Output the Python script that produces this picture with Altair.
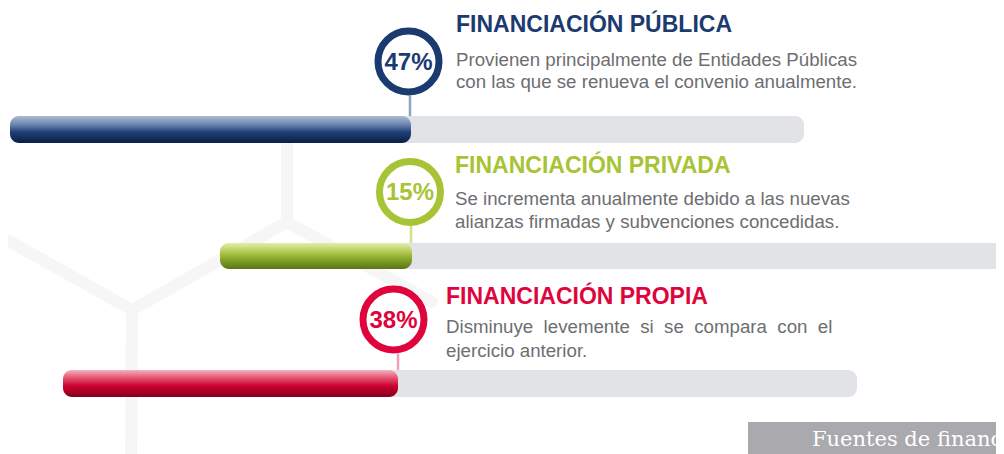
import altair as alt
import pandas as pd

# ---------------- data ----------------
categories = ["FINANCIACIÓN PÚBLICA", "FINANCIACIÓN PRIVADA", "FINANCIACIÓN PROPIA"]
percent_labels = ["47%", "15%", "38%"]
NB = "\u00a0 "  # widened word gap (the reference justifies this line)
descriptions = [
    ["Provienen principalmente de Entidades Públicas",
     "con las que se renueva el convenio anualmente."],
    ["Se incrementa anualmente debido a las nuevas",
     "alianzas firmadas y subvenciones concedidas."],
    [NB.join("Disminuye levemente si se compara con el".split(" ")),
     "ejercicio anterior."],
]
# bar extents (scale units)
bar_start = [10, 220, 63]
bar_end = [411, 412, 398]
track_end = [804, 1015, 857]
footer_label = "Fuentes de financiación"

# ---------------- layout / styles ----------------
W, H = 988, 446
XS = alt.Scale(domain=[8, 996], range=[0, W], nice=False, zero=False)
YS = alt.Scale(domain=[8, 454], range=[0, H], nice=False, zero=False)

bar_top = [116, 243, 370]
bar_bot = [143, 269, 397]
circ_x = [408.5, 410, 393.5]
circ_y = [61.5, 192, 319.5]
conn_x = [410, 411, 398]
title_x = [456, 455, 446]
title_y = [25, 166, 297]
desc_y = [[60, 82], [199, 222], [327, 351]]

main_col = ["#1b3a70", "#a6c435", "#e0043c"]
conn_col = ["#8ea2c2", "#cfe08f", "#f0a0b4"]
grads = [
    [("#a9bbd5", 0), ("#6f89b2", 0.3), ("#1f3f78", 0.6), ("#0a1d45", 1)],
    [("#e3edb0", 0), ("#b9d05a", 0.3), ("#8aa82a", 0.6), ("#5b7417", 1)],
    [("#f4b3c0", 0), ("#e4506e", 0.3), ("#cc0030", 0.6), ("#82001b", 1)],
]

# background hexagon lines
bg = pd.DataFrame({
    "x": [287, 287, 287, 0, 132],
    "y": [143, 222, 222, 236, 310],
    "x2": [287, 132, 432, 132, 131],
    "y2": [222, 310, 302, 310, 454],
})
bg_layer = alt.Chart(bg).mark_rule(color="#f6f6f7", strokeWidth=12, strokeCap="round").encode(
    x=alt.X("x:Q", scale=XS, axis=None), y=alt.Y("y:Q", scale=YS, axis=None),
    x2="x2:Q", y2="y2:Q")

rows = pd.DataFrame({
    "cat": categories, "pct": percent_labels,
    "bs": bar_start, "be": bar_end, "te": track_end,
    "bt": bar_top, "bb": bar_bot,
    "cx": circ_x, "cy": circ_y, "kx": conn_x,
    "tx": title_x, "ty": title_y,
    "col": main_col, "ccol": conn_col,
})

track = alt.Chart(rows).mark_rect(color="#e2e3e7", cornerRadius=9).encode(
    x=alt.X("bs:Q", scale=XS, axis=None), x2="te:Q",
    y=alt.Y("bt:Q", scale=YS, axis=None), y2="bb:Q")

conn = alt.Chart(rows).transform_calculate(c0="datum.cy + 34").mark_rule(strokeWidth=2.5).encode(
    x=alt.X("kx:Q", scale=XS, axis=None),
    y=alt.Y("c0:Q", scale=YS, axis=None), y2="bt:Q",
    color=alt.Color("ccol:N", scale=None))

bars = []
for i in range(3):
    g = alt.Gradient(gradient="linear", x1=0, x2=0, y1=0, y2=1,
                     stops=[alt.GradientStop(color=c, offset=o) for c, o in grads[i]])
    bars.append(
        alt.Chart(rows.iloc[[i]]).mark_rect(color=g, cornerRadius=9).encode(
            x=alt.X("bs:Q", scale=XS, axis=None), x2="be:Q",
            y=alt.Y("bt:Q", scale=YS, axis=None), y2="bb:Q"))

circles = alt.Chart(rows).mark_point(shape="circle", filled=True, fill="white",
                                     strokeWidth=7, size=3721, opacity=1).encode(
    x=alt.X("cx:Q", scale=XS, axis=None), y=alt.Y("cy:Q", scale=YS, axis=None),
    stroke=alt.Stroke("col:N", scale=None))

pct = alt.Chart(rows).mark_text(font="Liberation Sans", fontWeight="bold",
                                fontSize=24, align="center", baseline="middle", dy=1).encode(
    x=alt.X("cx:Q", scale=XS, axis=None), y=alt.Y("cy:Q", scale=YS, axis=None),
    text="pct:N", color=alt.Color("col:N", scale=None))

titles = alt.Chart(rows).mark_text(font="Liberation Sans", fontWeight="bold",
                                   fontSize=23, align="left", baseline="middle").encode(
    x=alt.X("tx:Q", scale=XS, axis=None), y=alt.Y("ty:Q", scale=YS, axis=None),
    text="cat:N", color=alt.Color("col:N", scale=None))

drows = []
for i, lines in enumerate(descriptions):
    for j, t in enumerate(lines):
        drows.append({"x": title_x[i], "y": desc_y[i][j], "t": t})
desc = alt.Chart(pd.DataFrame(drows)).mark_text(font="Liberation Sans", fontSize=18.7,
                                                 align="left", baseline="middle",
                                                 color="#6d6e71").encode(
    x=alt.X("x:Q", scale=XS, axis=None), y=alt.Y("y:Q", scale=YS, axis=None), text="t:N")

box = alt.Chart(pd.DataFrame({"x": [748], "x2": [1010], "y": [422], "y2": [460]})).mark_rect(
    color="#a9a9ae").encode(
    x=alt.X("x:Q", scale=XS, axis=None), x2="x2:Q",
    y=alt.Y("y:Q", scale=YS, axis=None), y2="y2:Q")
foot = alt.Chart(pd.DataFrame({"x": [812], "y": [440], "t": [footer_label]})).mark_text(
    font="DejaVu Serif", fontSize=21, align="left", baseline="middle", color="white").encode(
    x=alt.X("x:Q", scale=XS, axis=None), y=alt.Y("y:Q", scale=YS, axis=None), text="t:N")

chart = alt.layer(bg_layer, track, conn, *bars, circles, pct, titles, desc, box, foot).properties(
    width=W, height=H, padding=0, background="white",
    autosize=alt.AutoSizeParams(type="none"),
).configure_view(strokeWidth=0)

chart.save("out.html", embed_options={"renderer": "svg", "actions": False})
